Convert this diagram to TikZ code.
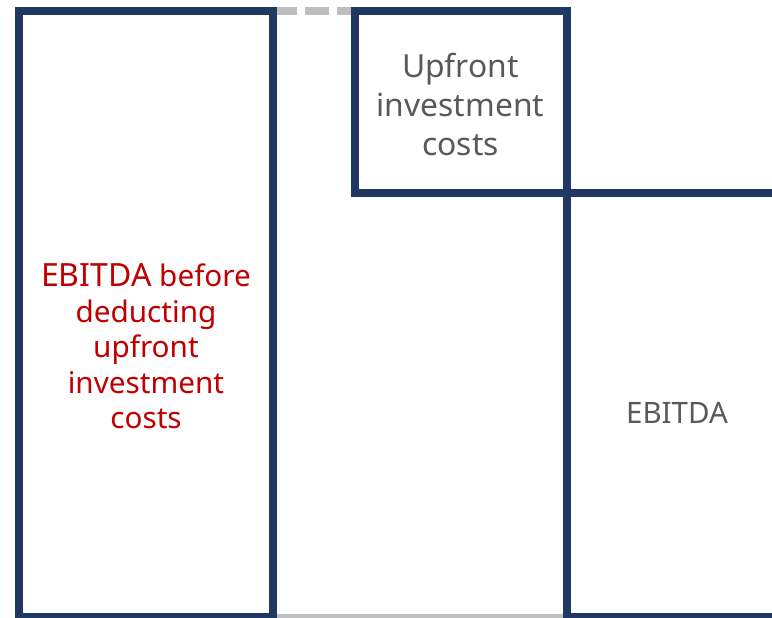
\documentclass[tikz,border=0pt]{standalone}
\usepackage{fontspec}
\setmainfont{Noto Sans}
\definecolor{navy}{RGB}{31,56,100}
\definecolor{lightgray}{RGB}{191,191,191}
\definecolor{textgray}{RGB}{89,89,89}
\definecolor{deepred}{RGB}{192,0,0}
\tikzset{
  boxline/.style={draw=navy, line width=8pt},
  linkline/.style={draw=lightgray, line width=8pt},
  dashlink/.style={linkline, dash pattern=on 23.4pt off 8.6pt},
  bodytext/.style={inner sep=0pt, align=center, text=textgray},
}
\begin{document}
\begin{tikzpicture}[x=1pt, y=-1pt]
\useasboundingbox (0,0) rectangle (772,618);
\clip (0,0) rectangle (772,618);

% corner points of the three boxes
\coordinate (lefttl) at (19.3,10.7);
\coordinate (leftbr) at (273.3,617.3);
\coordinate (toptl) at (355,10.7);
\coordinate (topbr) at (566.7,193.3);
\coordinate (righttl) at (566.7,193.3);
\coordinate (rightbr) at (787,617.3);

% grey links between the boxes
\draw[dashlink] (lefttl -| leftbr) -- (toptl);
\draw[linkline, line width=7pt] (leftbr) -- (rightbr -| righttl);

% the boxes
\draw[boxline] (lefttl) rectangle (leftbr);
\draw[boxline] (toptl) rectangle (topbr);
\draw[boxline] (righttl) rectangle (rightbr);

% labels
\node[bodytext, text=deepred, font=\fontsize{29.7}{35.5}\selectfont] (leftlabel) at (146,346.5)
  {{\fontsize{32}{35.5}\selectfont EBITDA} before\\deducting\\upfront\\investment\\costs};
\node[bodytext, font=\fontsize{31.8}{38.6}\selectfont] (toplabel) at (460.5,104.5)
  {Upfront\\investment\\costs};
\node[bodytext, anchor=base, font=\fontsize{29.5}{35}\selectfont] (rightlabel) at (677,423.3)
  {EBITDA};
\end{tikzpicture}
\end{document}
